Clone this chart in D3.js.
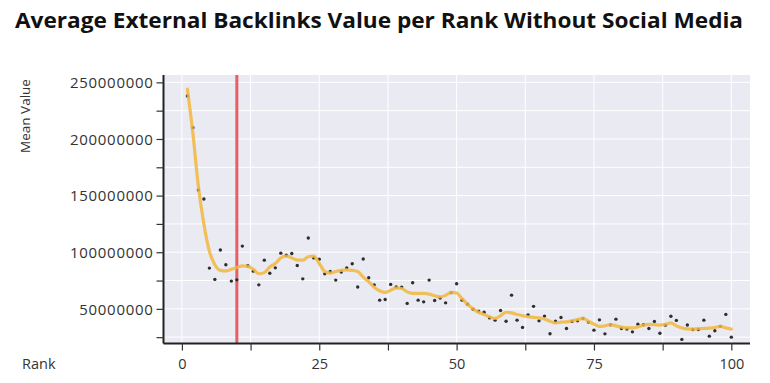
<!DOCTYPE html>
<html><head><meta charset="utf-8">
<script src="https://cdn.jsdelivr.net/npm/d3@7"></script>
<style>body{margin:0;background:#fff} svg{display:block}</style>
</head><body><svg id="c" width="770" height="383"></svg>
<script>
const title = "Average External Backlinks Value per Rank Without Social Media";
const xLabel = "Rank";
const yLabel = "Mean Value";
const ranks = d3.range(1, 101);
// mean values (millions), one per rank
const meanValues = [238,210,155,147,86,76,102,89,74.5,75.6,
105.4,88,83.3,71.2,93,81.5,86.2,99.2,97.4,98.9,
88.3,76.5,112.5,95,93.9,80.9,83,75.4,82.5,86.2,
89.8,69.3,94,77.4,71.2,57.7,58.3,71.6,69.4,69.2,
54.8,73,57.7,56.2,75.4,57.4,59.5,55.3,64.3,72.1,
57.7,54,49.6,48,47,42,40,48.6,39.1,62.1,
40,33.6,44.7,52.2,39.4,43.6,28,39.1,42.4,32.7,
38.9,39.4,41.5,38.3,31.2,40.3,27.9,35.9,40.9,32.7,
32.1,29.7,36.5,36,32.7,38.9,28.5,35.6,43.5,39.8,
23,35.8,31.8,31.8,40,25.9,30.6,34.5,45.1,25];
// smoothed trend (millions), one per rank
const smoothValues = [244,205,158,125,101,89,84,83.5,85,86.5,
88,87.5,85,81,82,87,90,95,96.5,95,
93,93,96,96.5,90,83,81.5,83,84,84.5,
84,83,78,74,69,66,64.5,66.5,68.5,68,
65,63.6,63.6,63.6,63,61.5,60.5,62,64.5,64,
59,54,50,47,45,43,41.5,44,47,46.5,
45,44,43,42.5,42,41,39,37.5,38.3,38.5,
39.5,40.5,41.5,39,36.5,34.5,35,36,35,33.8,
33.2,33.2,34,35.6,36.3,36,35.6,36.3,37.7,35,
33.2,32.3,32.1,32.5,32.7,33,33.5,34.5,33.2,32.1];
const cutoffRank = 10;
const yTickValues = [25e6,50e6,75e6,100e6,125e6,150e6,175e6,200e6,225e6,250e6];
const xTickValues = [0,12.5,25,37.5,50,62.5,75,87.5,100];

const svg = d3.select("#c");
const L = 163.5, R = 750, T = 75, B = 343.5;
const x = d3.scaleLinear().domain([-3.35, 103.4]).range([L, R]);
const y = d3.scaleLinear().domain([19.4e6, 256.5e6]).range([B, T]);
const font = "'Open Sans', 'DejaVu Sans', sans-serif";

// plot background
svg.append("rect").attr("x", L).attr("y", T).attr("width", R - L).attr("height", B - T).attr("fill", "#eaeaf3");
// grid
svg.append("g").selectAll("line").data(yTickValues).join("line")
  .attr("x1", L).attr("x2", R).attr("y1", d => y(d)).attr("y2", d => y(d))
  .attr("stroke", "#fff").attr("stroke-width", 1);
svg.append("g").selectAll("line").data(xTickValues).join("line")
  .attr("y1", T).attr("y2", B).attr("x1", d => x(d)).attr("x2", d => x(d))
  .attr("stroke", "#fff").attr("stroke-width", 1);

// red cutoff line
svg.append("line").attr("x1", x(cutoffRank)).attr("x2", x(cutoffRank)).attr("y1", T).attr("y2", B)
  .attr("stroke", "#e5474c").attr("stroke-width", 3).attr("opacity", 0.85);

// points
svg.append("g").selectAll("circle").data(ranks).join("circle")
  .attr("cx", (d) => x(d)).attr("cy", (d, i) => y(meanValues[i] * 1e6))
  .attr("r", 1.7).attr("fill", "#2e2e2e");

// smoothed line
const line = d3.line().x(d => x(d)).y((d, i) => y(smoothValues[i] * 1e6)).curve(d3.curveMonotoneX);
svg.append("path").datum(ranks).attr("d", line).attr("fill", "none")
  .attr("stroke", "#f2b63c").attr("stroke-width", 3.2).attr("opacity", 0.85)
  .attr("stroke-linejoin", "round").attr("stroke-linecap", "round");

// axes
const yAxis = d3.axisLeft(y).tickValues(yTickValues).tickSize(7).tickPadding(3)
  .tickFormat(d => d % 50e6 === 0 ? d3.format("d")(d) : "");
const gy = svg.append("g").attr("transform", `translate(${L},0)`).call(yAxis);
gy.select(".domain").attr("d", `M0,${T}V${B}`).attr("stroke", "#222").attr("stroke-width", 2);
gy.selectAll(".tick line").attr("stroke", "#333").attr("stroke-width", 1.2);
gy.selectAll("text").attr("font-family", font).attr("font-size", 15).attr("letter-spacing", "0.7px")
  .attr("fill", "#333").attr("dy", "0.35em");

const xAxis = d3.axisBottom(x).tickValues(xTickValues).tickSize(7).tickPadding(8)
  .tickFormat(d => d % 25 === 0 ? d3.format("d")(d) : "");
const gx = svg.append("g").attr("transform", `translate(0,${B})`).call(xAxis);
gx.select(".domain").attr("d", `M${L},0H${R}`).attr("stroke", "#222").attr("stroke-width", 2);
gx.selectAll(".tick line").attr("stroke", "#333").attr("stroke-width", 1.2);
gx.selectAll("text").attr("font-family", font).attr("font-size", 14.5).attr("fill", "#333");

// labels
svg.append("text").attr("transform", "translate(30,116) rotate(-90)").attr("text-anchor", "middle")
  .attr("font-family", font).attr("font-size", 13.5).attr("fill", "#333").text(yLabel);
svg.append("text").attr("x", 22).attr("y", 369).attr("font-family", font).attr("font-size", 14.5)
  .attr("fill", "#333").text(xLabel);
svg.append("text").attr("x", 15).attr("y", 28).attr("font-family", font).attr("font-weight", "bold")
  .attr("font-size", 20.5).attr("fill", "#111").attr("textLength", 728).attr("lengthAdjust", "spacingAndGlyphs")
  .text(title);
</script></body></html>
